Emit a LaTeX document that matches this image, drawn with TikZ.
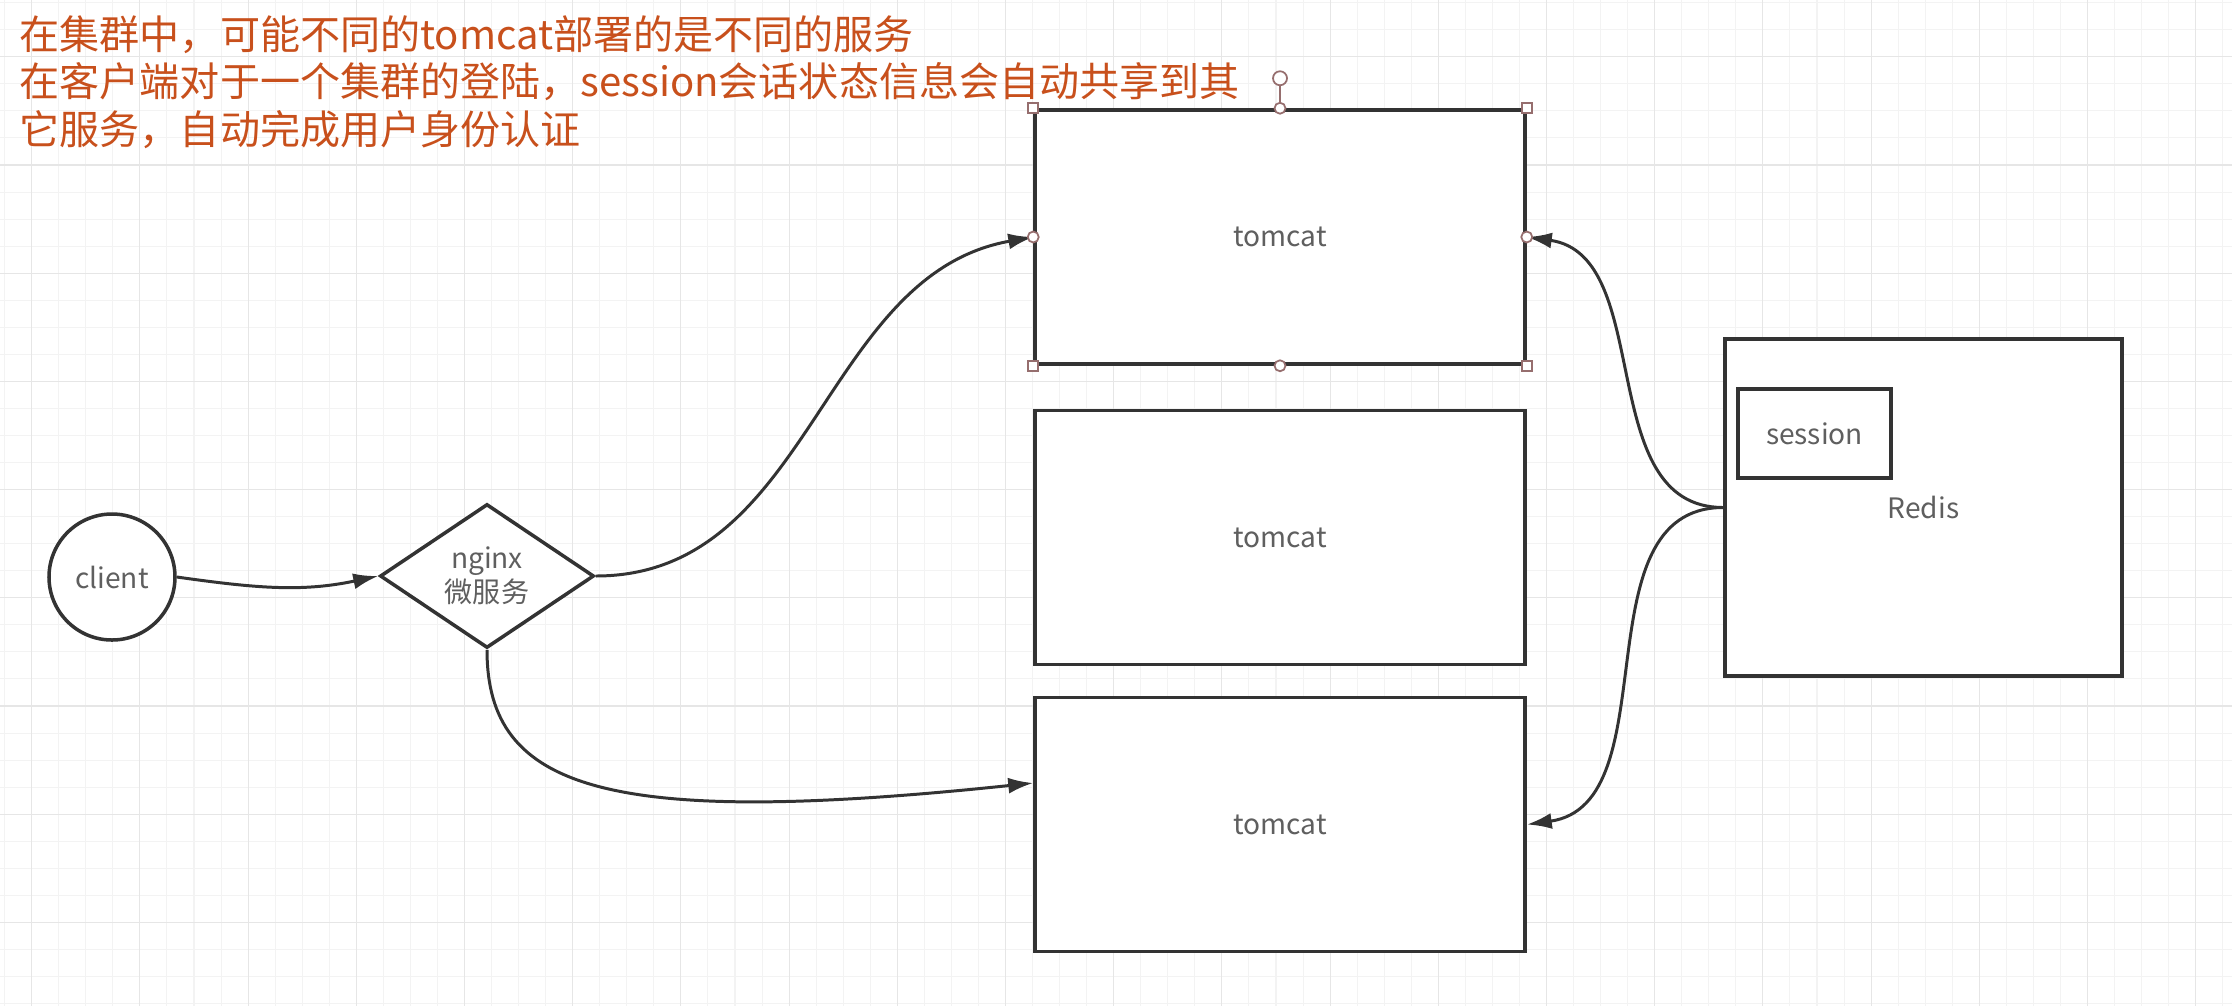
\documentclass[tikz,border=0pt]{standalone}
\usepackage{fontspec}
\setmainfont{Noto Sans CJK SC}
\usetikzlibrary{shapes.geometric,arrows.meta}

\definecolor{gridminor}{RGB}{243,243,243}
\definecolor{gridmajor}{RGB}{230,230,230}
\definecolor{linegray}{RGB}{51,51,51}
\definecolor{labelgray}{RGB}{95,95,95}
\definecolor{noteorange}{RGB}{200,80,28}
\definecolor{handlecol}{RGB}{150,110,110}

\tikzset{
  box/.style={draw=linegray,line width=1pt,fill=white,text=labelgray,
    font=\fontsize{8}{8}\selectfont,inner sep=0pt},
  tomcatbox/.style={box,minimum width=49mm,minimum height=25.4mm},
  flow/.style={->,draw=linegray,line width=0.85pt},
  note/.style={anchor=base west,inner sep=0pt,text=noteorange,
    font=\fontsize{11.4}{13.5}\selectfont},
  handlebox/.style={draw=handlecol,fill=white,line width=0.5pt,
    minimum size=1mm,inner sep=0pt},
  handledot/.style={circle,draw=handlecol,fill=white,line width=0.5pt,
    minimum size=1.1mm,inner sep=0pt}
}

\begin{document}
\begin{tikzpicture}[x=0.1mm,y=0.1mm,>={Latex[length=2.5mm,width=1.6mm]}]

\useasboundingbox (0,0) rectangle (2232,-1006);

% grid
\foreach \i in {0,...,82}
  \draw[gridminor,line width=0.3pt] ({4.65+27.05*\i},0) -- ({4.65+27.05*\i},-1006);
\foreach \j in {0,...,37}
  \draw[gridminor,line width=0.3pt] (0,{-2.7-27.05*\j}) -- (2232,{-2.7-27.05*\j});
\foreach \i in {0,...,20}
  \draw[gridmajor,line width=0.3pt] ({31.7+108.2*\i},0) -- ({31.7+108.2*\i},-1006);
\foreach \j in {0,...,8}
  \draw[gridmajor,line width=0.3pt] (0,{-56.8-108.2*\j}) -- (2232,{-56.8-108.2*\j});

% note
\node[note]
(t1)
at (19,-49)
{在集群中，可能不同的tomcat部署的是不同的服务};

\node[note]
(t2)
at (19,-96)
{在客户端对于一个集群的登陆，session会话状态信息会自动共享到其};

\node[note]
(t3)
at (19,-144)
{它服务，自动完成用户身份认证};

% nodes
\node[box,circle,minimum size=12.6mm]
(client)
at (112,-577)
{client};

\node[box,diamond,minimum width=21.4mm,minimum height=14.4mm,align=center]
(nginx)
at (487,-576)
{nginx\\微服务};

\node[tomcatbox]
(tc1)
at (1280,-237)
{tomcat};

\node[tomcatbox]
(tc2)
at (1280,-537.5)
{tomcat};

\node[tomcatbox]
(tc3)
at (1280,-824.5)
{tomcat};

\node[box,minimum width=39.7mm,minimum height=33.7mm]
(redis)
at (1923.5,-507.5)
{Redis};

\node[box,minimum width=15.3mm,minimum height=8.9mm]
(session)
at (1814.5,-433.5)
{session};

% connectors
\draw[flow]
(client.east) to[out=-8,in=192] (nginx.west);

\draw[flow]
(nginx.east) to[out=0,in=190] (tc1.west);

\draw[flow]
(nginx.south) to[out=-90,in=186,out distance=14mm,in distance=43mm] ([yshift=4.15mm]tc3.west);

\draw[flow]
(redis.west) to[out=180,in=-8] (tc1.east);

\draw[flow]
(redis.west) to[out=180,in=8] (tc3.east);

% selection handles
\node[handledot,minimum size=1.4mm]
(rot)
at ([yshift=3mm]tc1.north)
{};
\draw[handlecol,line width=0.5pt] (rot.south) -- (tc1.north);
\foreach \c in {north west,north east,south west,south east}
  \node[handlebox] at (tc1.\c) {};
\foreach \s in {north,south,west,east}
  \node[handledot] at (tc1.\s) {};

\end{tikzpicture}
\end{document}
